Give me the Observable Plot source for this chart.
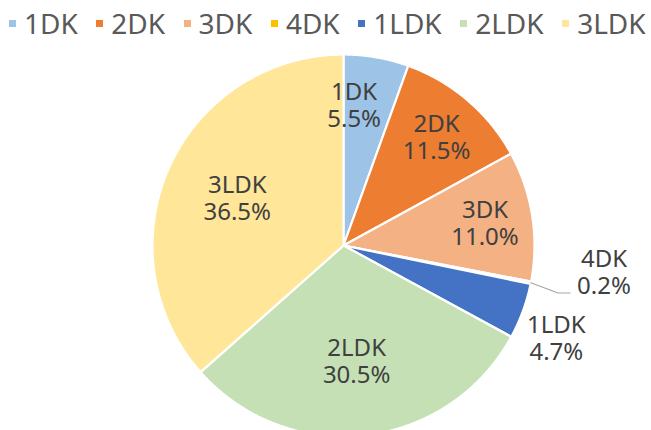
<!DOCTYPE html>
<html><head><meta charset="utf-8">
<script src="https://cdn.jsdelivr.net/npm/d3@7"></script>
<script src="https://cdn.jsdelivr.net/npm/@observablehq/plot@0.6"></script>
<style>
html,body{margin:0;padding:0;background:#fff}
body{width:651px;height:430px;overflow:hidden;font-family:"Noto Sans",sans-serif}
#legend{height:46px;padding-left:9px;box-sizing:border-box;display:flex;align-items:center;overflow:hidden}
#legend .lg-swatches{font-family:"Noto Sans",sans-serif !important;font-size:28px !important;color:#595959 !important;margin:0 !important;display:flex !important;flex-wrap:nowrap !important;min-height:0 !important;align-items:center !important}
#legend .lg-swatch{margin-right:18.5px !important;display:inline-flex;align-items:center}
#legend .lg-swatch > svg{margin-right:8px !important}
#chart svg{display:block}
</style></head><body>
<div id="legend"></div>
<div id="chart"></div>
<script>
// ---- data ----
const categories = ["1DK", "2DK", "3DK", "4DK", "1LDK", "2LDK", "3LDK"];
const shares = [5.5, 11.5, 11.0, 0.2, 4.7, 30.5, 36.5];
const colors = ["#9DC3E6", "#ED7D31", "#F4B183", "#FFC000", "#4472C4", "#C5E0B4", "#FFE699"];

// ---- layout (styling, not data) ----
const W = 651, H = 384, cx = 343, cy = 199, R = 191;
const nudge = {"1DK": [-14, 0], "1LDK": [-6, 12], "4DK": [32, -19]};

const rows = categories.map((c, i) => ({cat: c, share: shares[i]}));
const arcs = d3.pie().sort(null).value(d => d.share)(rows);

const pts = arcs.flatMap(a => {
  const n = Math.max(2, Math.ceil((a.endAngle - a.startAngle) / 0.008));
  const p = [{cat: a.data.cat, x: 0, y: 0}];
  for (let i = 0; i <= n; i++) {
    const t = a.startAngle + (a.endAngle - a.startAngle) * i / n;
    p.push({cat: a.data.cat, x: Math.sin(t), y: -Math.cos(t)});
  }
  return p;
});

const labels = arcs.map(a => {
  const s = a.data.share;
  const mid = (a.startAngle + a.endAngle) / 2;
  const f = s >= 20 ? 0.61 : s >= 5 ? 0.75 : 1.22;
  const [nx, ny] = nudge[a.data.cat] || [0, 0];
  return {
    cat: a.data.cat,
    text: a.data.cat + "\n" + s.toFixed(1) + "%",
    mid, small: s < 1,
    x: f * Math.sin(mid) + nx / R,
    y: -f * Math.cos(mid) + ny / R
  };
});

const leaders = labels.filter(l => l.small).flatMap(l => [
  {cat: l.cat, x: Math.sin(l.mid), y: -Math.cos(l.mid)},
  {cat: l.cat, x: l.x - 46 / R, y: l.y + 21 / R},
  {cat: l.cat, x: l.x - 34 / R, y: l.y + 21 / R}
]);

document.getElementById("legend").append(Plot.legend({
  color: {type: "ordinal", domain: categories, range: colors},
  swatchSize: 7,
  className: "lg"
}));

const chart = Plot.plot({
  width: W, height: H, margin: 0,
  style: {background: "#fff", fontFamily: "Noto Sans, sans-serif", overflow: "hidden"},
  x: {domain: [-1, 1], range: [cx - R, cx + R], axis: null},
  y: {domain: [-1, 1], range: [cy - R, cy + R], axis: null},
  color: {domain: categories, range: colors},
  marks: [
    Plot.line(pts, {x: "x", y: "y", z: "cat", fill: "cat", stroke: "white", strokeWidth: 2.2, curve: "linear-closed", strokeLinejoin: "round"}),
    Plot.line(leaders, {x: "x", y: "y", z: "cat", stroke: "#a6a6a6", strokeWidth: 1.2}),
    Plot.text(labels, {x: "x", y: "y", text: "text", fontSize: 24, lineHeight: 1.125, fill: "#404040"})
  ]
});
document.getElementById("chart").append(chart);
</script>
</body></html>
